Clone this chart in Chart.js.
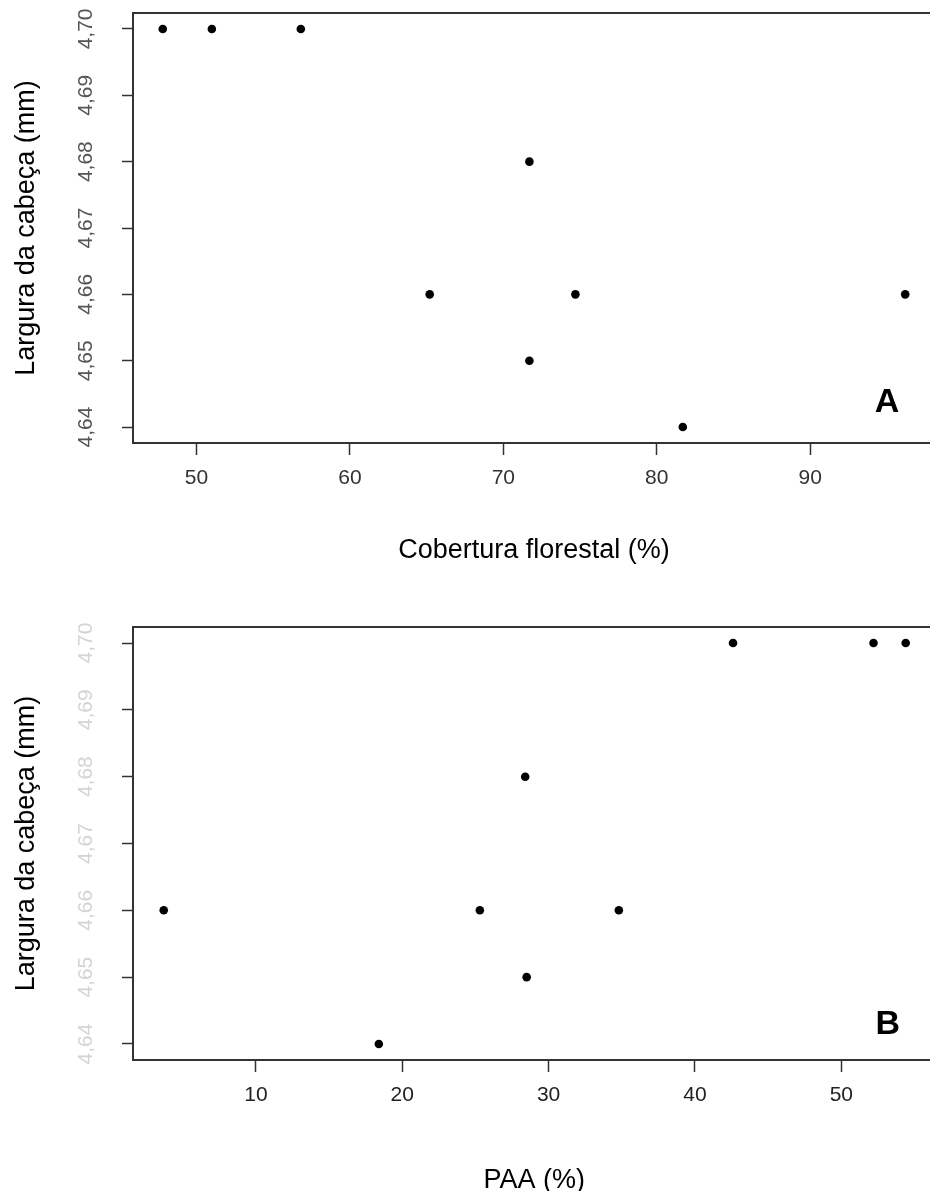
<!DOCTYPE html>
<html>
<head>
<meta charset="utf-8">
<script src="https://cdn.jsdelivr.net/npm/chart.js@4.4.1/dist/chart.umd.min.js"></script>
<style>
  html, body { margin: 0; padding: 0; background: #fff; overflow: hidden; }
  .painel { position: absolute; left: 0; width: 940px; }
  #painelA { top: 0; height: 580px; }
  #painelB { top: 580px; height: 625px; }
</style>
</head>
<body>
<div class="painel" id="painelA"><canvas id="graficoA"></canvas></div>
<div class="painel" id="painelB"><canvas id="graficoB"></canvas></div>
<script>
  // dados: largura da cabeça x cobertura florestal / PAA
  const coberturaFlorestal = [47.8, 51.0, 56.8, 71.7, 65.2, 74.7, 96.2, 71.7, 81.7];
  const larguraA = [4.70, 4.70, 4.70, 4.68, 4.66, 4.66, 4.66, 4.65, 4.64];
  const paa = [3.7, 18.4, 25.3, 28.4, 28.5, 34.8, 42.6, 52.2, 54.4];
  const larguraB = [4.66, 4.64, 4.66, 4.68, 4.65, 4.66, 4.70, 4.70, 4.70];
  const yTicks = [4.64, 4.65, 4.66, 4.67, 4.68, 4.69, 4.70];
  const xTicksA = [50, 60, 70, 80, 90];
  const xTicksB = [10, 20, 30, 40, 50];

  const fonte = '"Liberation Sans", Arial, sans-serif';
  const virgula = v => v.toFixed(2).replace('.', ',');

  // caixa, rótulos do eixo y (rodados, estilo R) e letra do painel
  const moldura = {
    id: 'moldura',
    afterDraw(chart, args, o) {
      const { ctx, chartArea: a, scales: { y } } = chart;
      ctx.save();
      ctx.strokeStyle = '#333';
      ctx.lineWidth = 2;
      ctx.beginPath();
      ctx.moveTo(a.left, a.top);
      ctx.lineTo(a.right, a.top);
      ctx.lineTo(a.right, a.bottom);
      ctx.stroke();

      ctx.fillStyle = o.corY;
      ctx.font = '21px ' + fonte;
      ctx.textAlign = 'center';
      ctx.textBaseline = 'middle';
      yTicks.forEach(v => {
        ctx.save();
        ctx.translate(a.left - 47, y.getPixelForValue(v));
        ctx.rotate(-Math.PI / 2);
        ctx.fillText(virgula(v), 0, 0);
        ctx.restore();
      });

      ctx.fillStyle = '#000';
      ctx.font = 'bold 34px ' + fonte;
      ctx.fillText(o.letra, a.right - 48, a.bottom - o.letraDy);
      ctx.restore();
    }
  };

  function grafico(id, xs, ys, cfg) {
    new Chart(document.getElementById(id), {
      type: 'scatter',
      data: {
        datasets: [{
          data: xs.map((x, i) => ({ x: x, y: ys[i] })),
          pointRadius: 4.3,
          pointHoverRadius: 4.3,
          backgroundColor: '#000',
          borderWidth: 0
        }]
      },
      options: {
        responsive: true,
        maintainAspectRatio: false,
        animation: false,
        events: [],
        layout: { padding: { top: cfg.topo, left: 0, right: cfg.direita, bottom: 0 } },
        plugins: {
          legend: { display: false },
          tooltip: { enabled: false },
          moldura: { corY: cfg.corY, letra: cfg.letra, letraDy: cfg.letraDy }
        },
        scales: {
          x: {
            type: 'linear',
            min: cfg.xMin,
            max: cfg.xMax,
            afterBuildTicks: s => { s.ticks = cfg.xTicks.map(v => ({ value: v })); },
            afterFit: s => { s.height = cfg.alturaX; },
            grid: { drawOnChartArea: false, drawTicks: true, tickLength: 12, tickColor: '#333', tickWidth: 1.5 },
            border: { display: true, color: '#333', width: 2 },
            ticks: { color: cfg.corX, padding: 11, maxRotation: 0, autoSkip: false, font: { size: 21, family: fonte }, callback: v => v },
            title: { display: true, text: cfg.tituloX, color: '#000', font: { size: 27, family: fonte }, padding: { top: 0, bottom: cfg.padTitulo } }
          },
          y: {
            type: 'linear',
            min: 4.6376,
            max: 4.7024,
            afterBuildTicks: s => { s.ticks = yTicks.map(v => ({ value: v })); },
            afterFit: s => { s.width = 133; },
            grid: { drawOnChartArea: false, drawTicks: true, tickLength: 11, tickColor: '#333', tickWidth: 1.5 },
            border: { display: true, color: '#333', width: 2 },
            ticks: { display: false },
            title: { display: true, text: 'Largura da cabeça (mm)', color: '#000', font: { size: 27, family: fonte }, padding: { top: 10, bottom: 0 } }
          }
        }
      },
      plugins: [moldura]
    });
  }

  grafico('graficoA', coberturaFlorestal, larguraA, {
    topo: 13, direita: 5, xMin: 45.86, xMax: 98.14, xTicks: xTicksA,
    alturaX: 137, padTitulo: 13, tituloX: 'Cobertura florestal (%)',
    corX: '#333', corY: '#555', letra: 'A', letraDy: 40
  });

  grafico('graficoB', paa, larguraB, {
    topo: 47, direita: 2, xMin: 1.6, xMax: 56.45, xTicks: xTicksB,
    alturaX: 145, padTitulo: 8, tituloX: 'PAA (%)',
    corX: '#222', corY: '#d4d4d4', letra: 'B', letraDy: 35
  });
</script>
</body>
</html>
